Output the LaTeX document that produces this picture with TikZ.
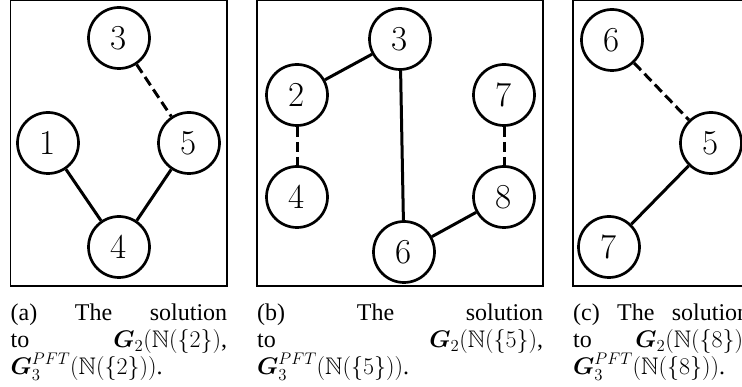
\RequirePackage{fix-cm}
\documentclass[tikz,border=0pt]{standalone}
\usepackage{amsmath,amssymb}
\usepackage[no-math]{fontspec}
\newfontfamily\capfont{Liberation Serif}
\newcommand{\capsize}{\capfont\fontsize{24}{27}\selectfont
  \baselineskip=27pt \lineskiplimit=-100pt}
\newcommand{\Nset}[1]{\mathbb{N}(\{#1\})}
% three justified lines: "(x) The solution to G_2(N({k}), G_3^PFT(N({k}))."
\newcommand{\solcap}[3]{\vtop{\capsize\hsize=#3
  \hbox to \hsize{(#1)\hfill The\hfill solution}
  \hbox to \hsize{to\hfill $\boldsymbol{G}_2(\Nset{#2}$,}
  \hbox to \hsize{$\boldsymbol{G}_3^{PFT}(\Nset{#2})$.\hfil}}}

\begin{document}
\begin{tikzpicture}[x=1pt, y=-1pt,
  vertex/.style={circle, draw, line width=2.7pt, minimum size=61pt, inner sep=0pt,
                 font=\fontsize{35}{40}\selectfont},
  tree/.style={line width=3pt},
  link/.style={line width=3pt, dash pattern=on 10pt off 5pt},
  frame/.style={draw, line width=1.3pt},
  caption/.style={anchor=base west, inner sep=0pt}]
\useasboundingbox (0,0) rectangle (742,387);

% panel frames
\draw[frame] (10.5,0.7) rectangle (227,286);
\draw[frame] (257,0.7) rectangle (543,286);
\draw[frame] (573,0.7) rectangle (749,286);

% (a)
\node[vertex] (a3) at (119,38) {3};
\node[vertex] (a1) at (48,143) {1};
\node[vertex] (a5) at (189,143) {5};
\node[vertex] (a4) at (119,247) {4};
\draw[link] (a3) -- (a5);
\draw[tree] (a1) -- (a4);
\draw[tree] (a5) -- (a4);

% (b)
\node[vertex] (b3) at (400,39) {3};
\node[vertex] (b2) at (297,95) {2};
\node[vertex] (b7) at (504,95) {7};
\node[vertex] (b4) at (297,197) {4};
\node[vertex] (b8) at (504,197) {8};
\node[vertex] (b6) at (404,252) {6};
\draw[tree] (b2) -- (b3);
\draw[tree] (b3) -- (b6);
\draw[tree] (b6) -- (b8);
\draw[link] (b2) -- (b4);
\draw[link] (b7) -- (b8);

% (c)
\node[vertex] (c6) at (612,40) {6};
\node[vertex] (c5) at (711,143) {5};
\node[vertex] (c7) at (609,247) {7};
\draw[link] (c6) -- (c5);
\draw[tree] (c5) -- (c7);

% captions
\node[caption] (capa) at (10.5,320.7) {\solcap{a}{2}{216.5pt}};
\node[caption] (capb) at (257,320.7)  {\solcap{b}{5}{286pt}};
\node[caption] (capc) at (573,320.7)  {\solcap{c}{8}{176pt}};
\end{tikzpicture}
\end{document}
